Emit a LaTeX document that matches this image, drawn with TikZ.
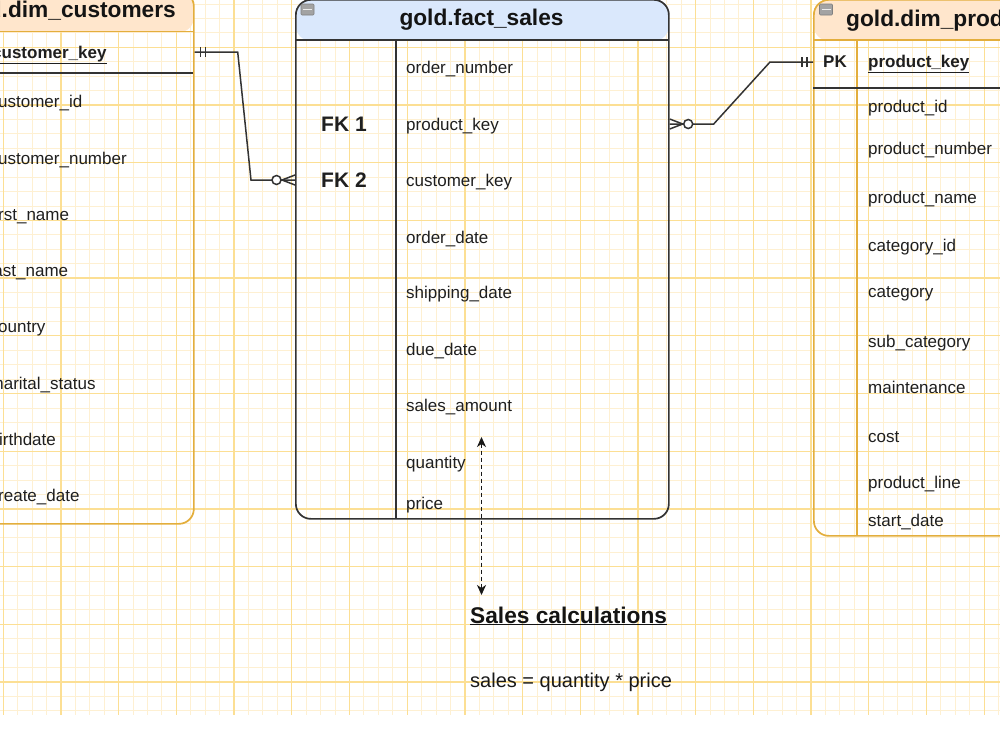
\documentclass[tikz,border=0pt]{standalone}
\usepackage{fontspec}
\setmainfont{Liberation Sans}
\usetikzlibrary{arrows.meta}

\definecolor{gridminor}{HTML}{FEF0D2}
\definecolor{gridmajor}{HTML}{FCDF94}
\definecolor{headblue}{HTML}{DAE8FC}
\definecolor{headorange}{HTML}{FFE6CC}
\definecolor{tablegold}{HTML}{E3AE3C}
\definecolor{inkgray}{HTML}{333333}
\definecolor{icongray}{HTML}{A3A3A3}

\tikzset{
	field/.style={anchor=west,inner sep=0pt,text height=12pt,text depth=0pt,text=black!88,font=\fontsize{17}{20}\selectfont},
	keyfield/.style={field,font=\fontsize{17}{20}\selectfont\bfseries},
	fklabel/.style={field,text height=14pt,font=\fontsize{21}{24}\selectfont\bfseries},
	tabletitle/.style={inner sep=0pt,text=black!92,font=\fontsize{22.7}{26}\selectfont\bfseries},
	facttable/.style={draw=inkgray,line width=1.7pt,rounded corners=15pt,anchor=north west,inner sep=0pt,
		path picture={\fill[headblue] (path picture bounding box.north west) rectangle ([yshift=-41pt]path picture bounding box.north east);}},
	dimtable/.style={draw=tablegold,line width=1.7pt,rounded corners=15pt,anchor=north west,inner sep=0pt,
		path picture={\fill[headorange] (path picture bounding box.north west) rectangle ([yshift=-41pt]path picture bounding box.north east);}},
	link/.style={draw=inkgray,line width=1.5pt},
	calcarrow/.style={draw=black!90,line width=1.3pt,dash pattern=on 4pt off 3pt,
		{Stealth[length=10pt,width=9pt,inset=3pt]}-{Stealth[length=10pt,width=9pt,inset=3pt]}},
	iconbox/.style={fill=icongray,draw=gray,line width=0.6pt,rounded corners=1pt},
}

\begin{document}
\begin{tikzpicture}[x=1pt,y=-1pt]
	\clip (0,0) rectangle (1000,750);
	\fill[white] (0,0) rectangle (1000,750);
	% 网格
	\foreach \i in {0,...,69}
		\draw[gridminor,line width=1pt] ({3.3+14.425*\i},0) -- ({3.3+14.425*\i},715);
	\foreach \j in {0,...,49}
		\draw[gridminor,line width=1pt] (0,{4.1+14.425*\j}) -- (1000,{4.1+14.425*\j});
	\foreach \i in {0,...,17}
		\draw[gridmajor,line width=1.3pt] ({3.3+57.7*\i},0) -- ({3.3+57.7*\i},715);
	\foreach \j in {1,...,12}
		\draw[gridmajor,line width=1.3pt] (0,{-10.4+57.7*\j}) -- (1000,{-10.4+57.7*\j});

	% 三张表的外框
	\node[dimtable,minimum width=261pt,minimum height=532.5pt] (cust) at (-68,-9.5) {};
	\node[facttable,minimum width=373pt,minimum height=519pt] (fact) at (295,-1) {};
	\node[dimtable,minimum width=273pt,minimum height=536pt] (prod) at (813,-1) {};

	% 表头下沿和分隔线
	\draw[tablegold,line width=1.7pt] (-68,31.5) -- (193,31.5);
	\draw[inkgray,line width=1.7pt] (295,40) -- (668,40);
	\draw[inkgray,line width=1.7pt] (396,40) -- (396,518);
	\draw[tablegold,line width=1.7pt] (813,40) -- (1086,40);
	\draw[tablegold,line width=1.7pt] (857,40) -- (857,535);
	\draw[inkgray,line width=1.5pt] (-68,73) -- (193,73);
	\draw[inkgray,line width=1.5pt] (813,88) -- (1086,88);

	% 折叠图标
	\draw[iconbox] (301,4) rectangle (314,15);
	\draw[white!85!gray,line width=1.8pt] (303,9.5) -- (312,9.5);
	\draw[iconbox] (819.5,4) rectangle (832.5,15);
	\draw[white!85!gray,line width=1.8pt] (821.5,9.5) -- (830.5,9.5);

	% 表名
	\node[tabletitle,anchor=base east] (custname) at (176,17) {gold.dim\_customers};
	\node[tabletitle,anchor=base] (factname) at (481.5,25.5) {gold.fact\_sales};
	\node[tabletitle,anchor=base west] (prodname) at (846,26) {gold.dim\_products};

	% gold.dim_customers 的字段
	\node[keyfield] (ckey) at (-8,52) {\underline{customer\_key}};
	\foreach \nm/\txt/\y in {cid/customer\_id/101,cnum/customer\_number/158,cfirst/first\_name/214,
		clast/last\_name/270,ccountry/country/326,cmarital/marital\_status/383,cbirth/birthdate/439,
		ccreate/create\_date/495}
		\node[field] (\nm) at (-10.5,\y) {\txt};

	% gold.fact_sales 的字段
	\node[fklabel] (fk1) at (321,124) {FK 1};
	\node[fklabel] (fk2) at (321,180) {FK 2};
	\foreach \nm/\txt/\y in {fnum/order\_number/67,fpkey/product\_key/124,fckey/customer\_key/180,
		fodate/order\_date/237,fsdate/shipping\_date/292,fddate/due\_date/349,famount/sales\_amount/405,
		fqty/quantity/462,fprice/price/503}
		\node[field] (\nm) at (406,\y) {\txt};

	% gold.dim_products 的字段
	\node[keyfield,text height=11pt] (pk) at (823,62) {PK};
	\node[keyfield,text height=11pt] (pkey) at (868,62) {\underline{product\_key}};
	\foreach \nm/\txt/\y in {pid/product\_id/106,pnum/product\_number/148,pname/product\_name/197,
		pcatid/category\_id/245,pcat/category/291,psub/sub\_category/341,pmaint/maintenance/387,
		pcost/cost/436,pline/product\_line/482,pstart/start\_date/520}
		\node[field] (\nm) at (868,\y) {\txt};

	% 连线：customers -> fact_sales
	\coordinate (c1) at (cust.east |- ckey);
	\coordinate (c2) at (fact.west |- fk2);
	\draw[link] (c1) -- ++(43,0) -- ([xshift=-44pt]c2) -- (c2);
	\draw[link] ([xshift=6pt]c1) ++(0,-5) -- ++(0,10);
	\draw[link] ([xshift=11pt]c1) ++(0,-5) -- ++(0,10);
	\draw[link] ([yshift=5pt]c2) -- ([xshift=-13pt]c2) -- ([yshift=-5pt]c2);
	\draw[link,fill=white] ([xshift=-18.5pt]c2) circle[radius=4.5pt];

	% 连线：fact_sales -> products
	\coordinate (c3) at (fact.east |- fk1);
	\coordinate (c4) at (prod.west |- pk);
	\draw[link] (c3) -- ++(44,0) -- ([xshift=-43pt]c4) -- (c4);
	\draw[link] ([xshift=-6pt]c4) ++(0,-5) -- ++(0,10);
	\draw[link] ([xshift=-11pt]c4) ++(0,-5) -- ++(0,10);
	\draw[link] ([yshift=5pt]c3) -- ([xshift=13pt]c3) -- ([yshift=-5pt]c3);
	\draw[link,fill=white] ([xshift=18.5pt]c3) circle[radius=4.5pt];

	% 计算说明
	\node[tabletitle,anchor=base west] (calctitle) at (470,623) {\underline{Sales calculations}};
	\node[anchor=base west,inner sep=0pt,text=black!90,font=\fontsize{20}{24}\selectfont] (calcformula) at (470,687) {sales = quantity * price};
	\coordinate (arrtop) at (481.5,437);
	\coordinate (arrbot) at (481.5,595);
	\draw[calcarrow] (arrtop) -- (arrbot);
\end{tikzpicture}
\end{document}
